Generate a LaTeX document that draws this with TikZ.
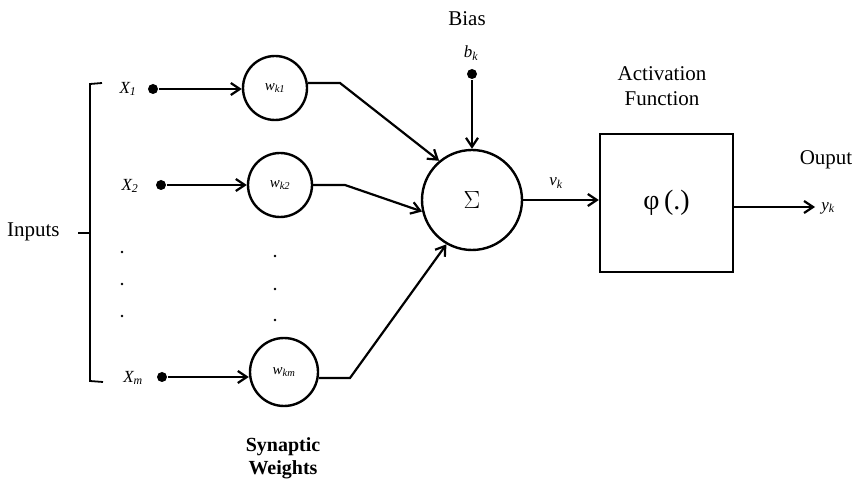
\documentclass[tikz,border=0pt]{standalone}
\usepackage{fontspec}
\setmainfont{Liberation Serif}
\usetikzlibrary{arrows.meta}
\begin{document}
\begin{tikzpicture}[x=1pt,y=-1pt,
  line width=2.2pt,
  arr/.style={-{Straight Barb[length=9pt,width=12pt,line width=2.2pt]}},
  wnode/.style={circle,draw,line width=2.4pt,inner sep=0pt,font=\fontsize{15}{16}\selectfont\itshape},
  dotnode/.style={circle,fill,inner sep=0pt,minimum size=10pt},
  lbl/.style={font=\fontsize{21}{24}\selectfont},
  var/.style={font=\fontsize{17}{19}\selectfont\itshape},
  smalldot/.style={circle,fill,inner sep=0pt,minimum size=2.6pt}]
\useasboundingbox (0,0) rectangle (855,486);
% bracket
\draw[line width=1.8pt] (102,83) -- (90,84) -- (90,381) -- (103,382);
\draw[line width=1.8pt] (90,233) -- (78,233);
\node[lbl,anchor=east] (inputs) at (64,232) {Inputs};
% inputs
\node[var] (x1) at (128,89) {X\textsubscript{\itshape 1}};
\node[var] (x2) at (130,186) {X\textsubscript{\itshape 2}};
\node[var] (xm) at (133,378) {X\textsubscript{\itshape m}};
\node[dotnode] (d1) at (153,89) {};
\node[dotnode] (d2) at (161,185) {};
\node[dotnode] (dm) at (162,377) {};
% weights
\node[wnode,minimum width=61pt,minimum height=64pt] (w1) at (275,88) {w\textsubscript{k1}};
\node[wnode,minimum width=62pt,minimum height=64pt] (w2) at (280,185) {w\textsubscript{k2}};
\node[wnode,minimum width=64pt,minimum height=68pt] (wm) at (284,372) {w\textsubscript{km}};
\draw[arr] (d1) -- (w1.west |- d1);
\draw[arr] (d2) -- (w2.west |- d2);
\draw[arr] (dm) -- (wm.west |- dm);
% ellipsis dots
\foreach \y [count=\i] in {252,284,316} \node[smalldot] (la\i) at (122,\y) {};
\foreach \y [count=\i] in {256,289,320} \node[smalldot] (lb\i) at (275,\y) {};
% summation
\node[circle,draw,line width=2.4pt,minimum size=100pt,inner sep=0pt,font=\fontsize{28}{30}\selectfont] (sum) at (472,200) {$\Sigma$};
\coordinate (c1) at (340,83);
\coordinate (c2) at (345,185);
\coordinate (cm) at (350,378);
\draw[arr] (w1.east |- c1) -- (c1) -- (sum.130);
\draw[arr] (w2.east |- c2) -- (c2) -- (sum.193);
\draw[arr] (wm.east |- cm) -- (cm) -- (sum.240);
% bias
\node[lbl] (bias) at (467,19) {Bias};
\node[var] (bk) at (471,53) {b\textsubscript{\itshape k}};
\node[dotnode] (db) at (472,74) {};
\draw[arr] (db) -- (sum.north);
% activation
\node[draw,line width=2.4pt,minimum width=133pt,minimum height=138pt,inner sep=0pt] (act) at (666.5,203) {\fontsize{28}{30}\selectfont φ\,(.)};
\node[lbl,align=center] (actlbl) at (662,86) {Activation\\[1pt]Function};
\draw[arr] (sum.east) -- (act.west |- sum.east);
\node[var] (vk) at (556,183) {v\textsubscript{\itshape k}};
% output
\coordinate (outend) at (815,207);
\draw[arr] (act.east |- outend) -- (outend);
\node[var] (yk) at (828,208) {y\textsubscript{\itshape k}};
\node[lbl] (ouput) at (826,160) {Ouput};
% synaptic weights
\node[lbl,align=center,font=\fontsize{20}{23}\selectfont\bfseries] (syn) at (283,458) {Synaptic\\Weights};
\end{tikzpicture}
\end{document}
